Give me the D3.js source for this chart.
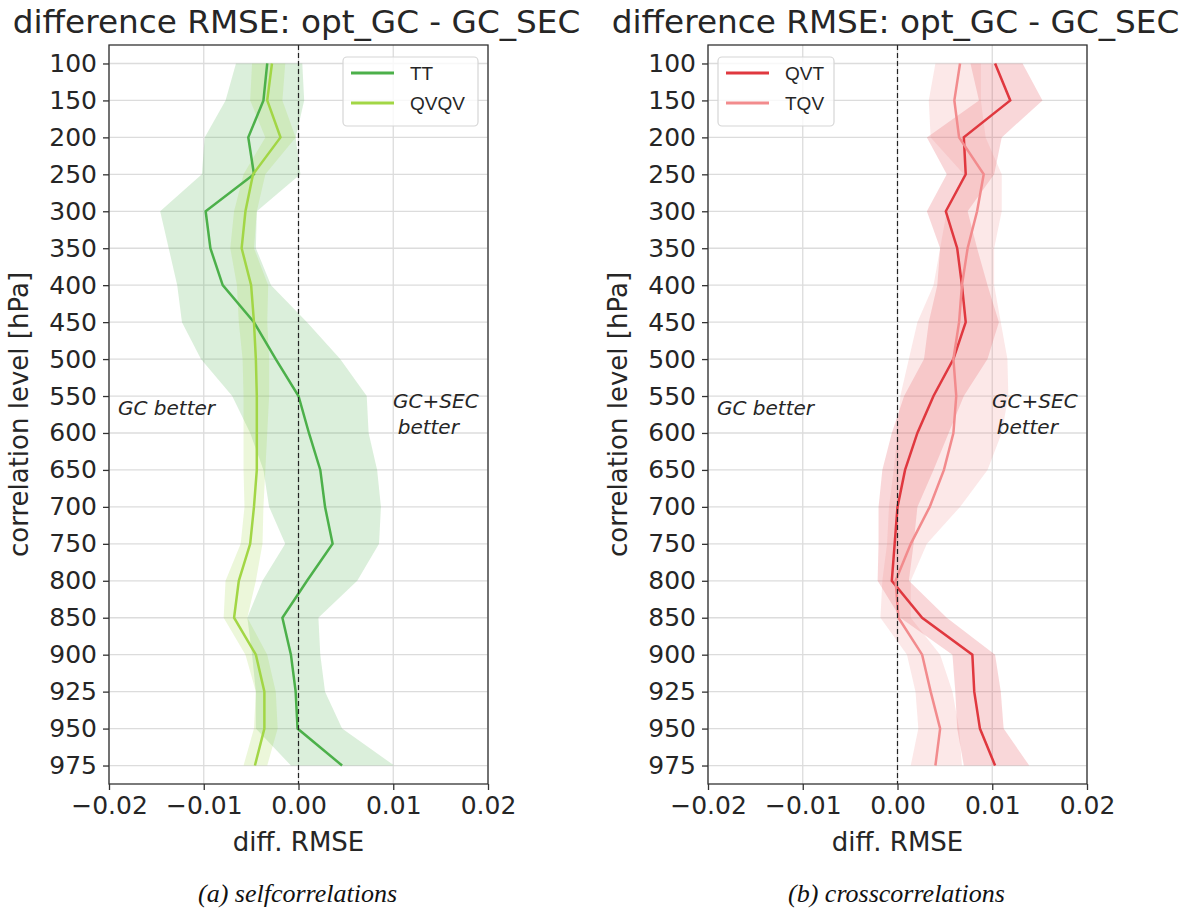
<!DOCTYPE html>
<html>
	<head>
		<meta charset="utf-8">
		<script src="https://cdnjs.cloudflare.com/ajax/libs/d3/7.8.5/d3.min.js"></script>
		<style type="text/css">
			body { margin: 0; background: #fff; }
		</style>
	</head>
	<body>
		<script>

			// pressure levels (categorical y axis)
			var levels = [100,150,200,250,300,350,400,450,500,550,600,650,700,750,800,850,900,925,950,975];
			var xTicks = [-0.02, -0.01, 0.00, 0.01, 0.02];

			// (a) selfcorrelations
			var ttMean = [-0.0033,-0.0037,-0.0053,-0.0047,-0.0098,-0.0093,-0.0080,-0.0047,-0.0024,0.0000,0.0011,0.0023,0.0028,0.0036,0.0009,-0.0017,-0.0008,-0.0003,-0.0001,0.0046];
			var ttLo = [-0.0066,-0.0077,-0.0099,-0.0102,-0.0146,-0.0137,-0.0128,-0.0123,-0.0103,-0.0070,-0.0051,-0.0037,-0.0031,-0.0014,-0.0038,-0.0054,-0.0049,-0.0045,-0.0045,-0.0008];
			var ttHi = [0.0004,0.0006,-0.0003,0.0002,-0.0044,-0.0045,-0.0029,0.0009,0.0044,0.0072,0.0074,0.0083,0.0087,0.0085,0.0062,0.0021,0.0023,0.0028,0.0046,0.0101];

			var qvqvMean = [-0.0028,-0.0033,-0.0019,-0.0048,-0.0056,-0.0060,-0.0050,-0.0047,-0.0045,-0.0044,-0.0044,-0.0044,-0.0047,-0.0051,-0.0063,-0.0068,-0.0045,-0.0036,-0.0036,-0.0046];
			var qvqvLo = [-0.0049,-0.0051,-0.0035,-0.0058,-0.0068,-0.0072,-0.0065,-0.0063,-0.0059,-0.0058,-0.0058,-0.0058,-0.0057,-0.0061,-0.0077,-0.0079,-0.0056,-0.0045,-0.0047,-0.0058];
			var qvqvHi = [-0.0014,-0.0017,-0.0003,-0.0035,-0.0044,-0.0047,-0.0032,-0.0033,-0.0031,-0.0031,-0.0033,-0.0035,-0.0037,-0.0038,-0.0045,-0.0054,-0.0033,-0.0024,-0.0022,-0.0033];

			// (b) crosscorrelations
			var qvtMean = [0.0103,0.0119,0.0070,0.0072,0.0051,0.0063,0.0068,0.0072,0.0059,0.0038,0.0021,0.0008,0.0000,-0.0003,-0.0006,0.0026,0.0079,0.0081,0.0087,0.0103];
			var qvtLo = [0.0077,0.0086,0.0031,0.0052,0.0031,0.0045,0.0042,0.0033,0.0028,0.0007,-0.0006,-0.0016,-0.0020,-0.0020,-0.0021,0.0003,0.0058,0.0061,0.0063,0.0070];
			var qvtHi = [0.0132,0.0153,0.0110,0.0102,0.0074,0.0084,0.0095,0.0107,0.0095,0.0070,0.0054,0.0038,0.0021,0.0017,0.0012,0.0052,0.0103,0.0109,0.0112,0.0139];

			var tqvMean = [0.0066,0.0060,0.0065,0.0091,0.0084,0.0074,0.0068,0.0065,0.0059,0.0062,0.0059,0.0049,0.0034,0.0014,-0.0002,0.0001,0.0026,0.0035,0.0045,0.0040];
			var tqvLo = [0.0040,0.0033,0.0035,0.0070,0.0052,0.0045,0.0038,0.0021,0.0012,0.0003,0.0000,-0.0004,-0.0009,-0.0011,-0.0016,-0.0018,0.0010,0.0019,0.0022,0.0014];
			var tqvHi = [0.0088,0.0088,0.0093,0.0110,0.0110,0.0102,0.0102,0.0109,0.0116,0.0117,0.0110,0.0095,0.0066,0.0031,0.0014,0.0014,0.0045,0.0058,0.0065,0.0068];

			var canvas = d3.select("body").append("svg")
				.attr("width", 1190)
				.attr("height", 911)
				.style("font-family", "'DejaVu Sans', sans-serif");

			var ink = "#262626";

			function drawPanel(left, right, series, legendX, legendW, caption) {
				var top = 45, bottom = 784;
				var g = canvas.append("g");

				var x = d3.scaleLinear().domain([-0.02, 0.02]).range([left, right]);
				var y = d3.scalePoint().domain(levels).range([top, bottom]).padding(0.5);

				// grid
				g.selectAll(".hgrid").data(levels).enter().append("line")
					.attr("x1", left).attr("x2", right)
					.attr("y1", function (d) { return y(d); })
					.attr("y2", function (d) { return y(d); })
					.attr("stroke", "#dcdcdc").attr("stroke-width", 1.3);
				g.selectAll(".vgrid").data(xTicks).enter().append("line")
					.attr("x1", function (d) { return x(d); })
					.attr("x2", function (d) { return x(d); })
					.attr("y1", top).attr("y2", bottom)
					.attr("stroke", "#dcdcdc").attr("stroke-width", 1.3);

				// bands then lines
				series.forEach(function (s) {
					var pts = levels.map(function (l, i) { return {l: l, lo: s.lo[i], hi: s.hi[i]}; });
					var area = d3.area()
						.y(function (d) { return y(d.l); })
						.x0(function (d) { return x(d.lo); })
						.x1(function (d) { return x(d.hi); });
					g.append("path").attr("d", area(pts))
						.attr("fill", s.color).attr("fill-opacity", s.alpha).attr("stroke", "none");
				});
				series.forEach(function (s) {
					var pts = levels.map(function (l, i) { return {l: l, m: s.mean[i]}; });
					var line = d3.line()
						.x(function (d) { return x(d.m); })
						.y(function (d) { return y(d.l); });
					g.append("path").attr("d", line(pts))
						.attr("fill", "none").attr("stroke", s.color).attr("stroke-width", 2.5);
				});

				// zero line
				g.append("line")
					.attr("x1", x(0)).attr("x2", x(0)).attr("y1", top).attr("y2", bottom)
					.attr("stroke", "#222").attr("stroke-width", 1.2).attr("stroke-dasharray", "5,3");

				// frame
				g.append("rect").attr("x", left).attr("y", top)
					.attr("width", right - left).attr("height", bottom - top)
					.attr("fill", "none").attr("stroke", "#333").attr("stroke-width", 1.3);

				// axes
				var xAxis = d3.axisBottom(x).tickValues(xTicks).tickSize(6).tickPadding(6)
					.tickFormat(function (d) { return d3.format(".2f")(d).replace("-", "\u2212"); });
				var gx = g.append("g").attr("transform", "translate(0," + bottom + ")").call(xAxis);
				gx.select(".domain").remove();
				gx.selectAll("line").attr("stroke", "#333").attr("stroke-width", 1.3);
				gx.selectAll("text").style("font-size", "25px").style("fill", ink).style("font-family", "'DejaVu Sans'");

				var yAxis = d3.axisLeft(y).tickSize(6).tickPadding(6);
				var gy = g.append("g").attr("transform", "translate(" + left + ",0)").call(yAxis);
				gy.select(".domain").remove();
				gy.selectAll("line").attr("stroke", "#333").attr("stroke-width", 1.3);
				gy.selectAll("text").style("font-size", "25px").style("fill", ink).style("font-family", "'DejaVu Sans'");

				var mid = (left + right) / 2;
				g.append("text").attr("x", mid - 2).attr("y", 33).attr("text-anchor", "middle")
					.style("font-size", "32.7px").style("fill", ink).text("difference RMSE: opt_GC - GC_SEC");
				g.append("text").attr("x", mid).attr("y", 851).attr("text-anchor", "middle")
					.style("font-size", "26px").style("fill", ink).text("diff. RMSE");
				g.append("text").attr("transform", "translate(" + (left - 81) + "," + ((top + bottom) / 2) + ") rotate(-90)")
					.attr("text-anchor", "middle").style("font-size", "26px").style("fill", ink).text("correlation level [hPa]");

				// annotations
				g.append("text").attr("x", left + 9).attr("y", 415).style("font-size", "20px").style("fill", ink)
					.style("font-style", "italic").text("GC better");
				g.append("text").attr("x", x(0.0145)).attr("y", 408).attr("text-anchor", "middle").style("font-size", "20px")
					.style("fill", ink).style("font-style", "italic").text("GC+SEC");
				g.append("text").attr("x", x(0.0137)).attr("y", 434).attr("text-anchor", "middle").style("font-size", "20px")
					.style("fill", ink).style("font-style", "italic").text("better");

				// legend
				var lg = g.append("g");
				lg.append("rect").attr("x", legendX).attr("y", 57).attr("width", legendW).attr("height", 69)
					.attr("rx", 4).attr("fill", "#fff").attr("fill-opacity", 0.8)
					.attr("stroke", "#d6d6d6").attr("stroke-width", 1.2);
				series.forEach(function (s, i) {
					var ly = 73 + i * 30;
					lg.append("line").attr("x1", legendX + 8).attr("x2", legendX + 51)
						.attr("y1", ly).attr("y2", ly)
						.attr("stroke", s.color).attr("stroke-width", 3);
					lg.append("text").attr("x", legendX + 67).attr("y", ly + 7)
						.style("font-size", "19px").style("fill", ink)
						.style("font-family", "'Liberation Sans', Arial, sans-serif")
						.text(s.name);
				});

				// caption
				canvas.append("text").attr("x", mid - 1).attr("y", 902).attr("text-anchor", "middle")
					.style("font-family", "'Liberation Serif', serif").style("font-style", "italic")
					.style("font-size", "26px").style("fill", "#111").text(caption);
			}

			drawPanel(109, 488, [
				{name: "TT", color: "#4cb04a", alpha: 0.2, mean: ttMean, lo: ttLo, hi: ttHi},
				{name: "QVQV", color: "#a2d645", alpha: 0.2, mean: qvqvMean, lo: qvqvLo, hi: qvqvHi}
			], 343, 135, "(a) selfcorrelations");

			drawPanel(708, 1087, [
				{name: "QVT", color: "#e0383f", alpha: 0.2, mean: qvtMean, lo: qvtLo, hi: qvtHi},
				{name: "TQV", color: "#f28b8d", alpha: 0.2, mean: tqvMean, lo: tqvLo, hi: tqvHi}
			], 718, 116, "(b) crosscorrelations");

		</script>
	</body>
</html>
